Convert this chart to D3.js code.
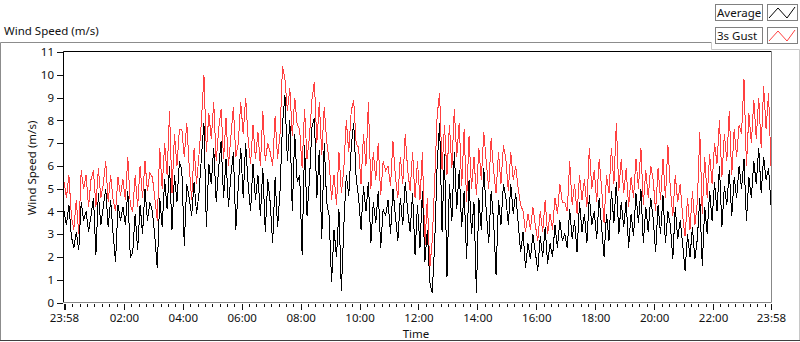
<!DOCTYPE html>
<html>
<head>
<meta charset="utf-8">
<script src="https://cdn.jsdelivr.net/npm/d3@7"></script>
<style>
  body { margin: 0; background: #fff; }
  text { font-family: "Noto Sans", sans-serif; font-size: 11.5px; fill: #111; }
</style>
</head>
<body>
<div id="chart"></div>
<script>
// samples every 5 minutes, starting 23:58 (one row = one hour)
const startTime = new Date(2020, 0, 1, 23, 58);
const endTime = new Date(2020, 0, 2, 23, 58);
const stepMinutes = 5;
const yTickValues = [0, 1, 2, 3, 4, 5, 6, 7, 8, 9, 10, 11];
const seriesNames = ['Average', '3s Gust'];
const seriesColors = ['#000000', '#ff4040'];

const average = [
  4.0, 3.4, 4.3, 2.9, 2.4, 3.1, 2.3, 4.4, 3.6, 4.0, 3.1, 3.8,
  4.6, 2.1, 4.8, 3.4, 4.2, 5.0, 3.3, 4.5, 3.0, 1.8, 4.3, 3.6,
  4.2, 3.4, 4.9, 2.0, 2.2, 3.9, 2.3, 4.3, 3.0, 5.0, 3.6, 4.4,
  4.0, 2.9, 1.5, 4.6, 3.3, 5.4, 4.1, 6.0, 3.2, 5.6, 4.4, 6.2,
  5.8, 2.5, 5.2, 4.6, 3.8, 5.3, 3.9, 4.8, 6.4, 7.9, 3.3, 6.1,
  5.2, 6.8, 4.4, 5.9, 7.1, 4.6, 6.3, 4.2, 5.6, 6.6, 3.2, 5.1,
  6.8, 4.6, 7.0, 5.2, 4.0, 6.1, 4.5, 5.6, 3.8, 5.9, 3.1, 5.4,
  4.4, 2.6, 5.5, 3.3, 4.9, 7.8, 9.1, 6.2, 8.0, 4.0, 7.4, 5.3,
  5.6, 2.1, 6.9, 3.8, 5.4, 7.7, 8.1, 4.6, 6.7, 2.8, 7.0, 4.4,
  3.8, 0.9, 3.2, 2.0, 4.1, 0.5, 3.4, 5.6, 4.7, 6.8, 7.9, 5.5,
  4.6, 3.2, 5.1, 4.0, 5.3, 2.6, 4.4, 3.5, 4.9, 2.4, 4.1, 3.8,
  4.5, 3.0, 5.0, 3.8, 2.7, 4.6, 3.4, 5.3, 4.0, 3.1, 4.8, 2.1,
  4.3, 2.4, 4.9, 1.8, 3.2, 0.9, 0.4, 2.6, 6.0, 7.9, 3.1, 6.5,
  1.1, 5.2, 3.6, 6.6, 4.1, 5.8, 3.3, 4.9, 1.9, 5.4, 3.0, 4.4,
  0.4, 4.6, 3.2, 5.9, 4.0, 2.6, 4.9, 3.6, 1.2, 4.5, 3.4, 5.2,
  4.6, 3.4, 5.2, 3.9, 4.8, 3.5, 2.2, 3.1, 1.5, 2.6, 1.9, 3.0,
  2.2, 1.4, 2.9, 2.0, 3.3, 1.7, 2.6, 2.0, 3.4, 2.4, 3.6, 2.7,
  3.0, 2.4, 4.1, 2.8, 3.6, 2.2, 4.4, 3.1, 3.9, 2.6, 4.7, 3.4,
  4.0, 2.8, 4.6, 3.3, 2.0, 3.9, 2.7, 4.9, 3.5, 5.3, 3.0, 4.4,
  3.3, 4.5, 2.4, 3.9, 2.9, 4.8, 3.5, 5.0, 2.6, 4.2, 3.1, 4.6,
  3.7, 2.2, 4.3, 3.0, 4.7, 2.6, 4.0, 3.4, 1.9, 4.2, 2.8, 3.6,
  2.6, 1.4, 3.0, 2.0, 3.3, 1.9, 2.8, 4.6, 1.6, 4.2, 3.0, 4.9,
  3.6, 5.3, 4.0, 6.0, 3.3, 5.1, 4.3, 5.8, 3.8, 5.5, 4.6, 6.0,
  5.0, 6.3, 3.6, 5.5, 4.6, 6.2, 5.2, 6.8, 4.8, 6.4, 5.4, 5.9,
  4.3
];

const gust = [
  5.3, 4.6, 5.6, 3.8, 3.2, 4.5, 3.0, 5.8, 5.0, 5.6, 4.2, 5.4,
  5.8, 4.2, 5.9, 4.6, 5.2, 6.2, 4.4, 5.6, 4.5, 4.0, 5.5, 4.7,
  5.4, 4.5, 6.4, 4.3, 4.0, 5.6, 4.2, 6.0, 4.6, 6.2, 4.9, 5.7,
  5.5, 4.6, 3.6, 6.8, 5.0, 7.0, 5.6, 8.4, 4.8, 7.4, 6.0, 7.6,
  7.6, 6.4, 7.9, 6.0, 4.5, 6.8, 5.2, 6.5, 8.0, 10.0, 6.6, 8.3,
  7.2, 8.8, 6.2, 7.6, 8.5, 6.3, 8.1, 6.0, 7.3, 8.6, 6.4, 7.0,
  8.8, 7.4, 9.0, 7.2, 6.1, 7.8, 6.3, 7.5, 6.0, 8.4, 6.2, 7.0,
  6.6, 6.0, 8.2, 6.3, 7.4, 10.4, 9.8, 8.4, 9.4, 7.3, 9.0, 7.8,
  7.6, 5.9, 8.5, 6.3, 7.3, 8.9, 9.7, 7.0, 8.8, 6.5, 8.6, 7.1,
  6.2, 4.5, 5.6, 4.3, 6.6, 4.8, 5.9, 8.0, 6.6, 8.4, 8.9, 7.0,
  6.8, 5.2, 7.4, 6.0, 8.8, 5.0, 6.6, 5.4, 7.0, 4.7, 6.2, 5.8,
  6.0, 5.1, 7.1, 5.5, 4.6, 6.4, 5.2, 7.4, 5.8, 4.9, 6.6, 4.6,
  6.2, 4.5, 6.6, 2.4, 4.6, 1.5, 2.7, 5.3, 8.2, 9.2, 5.8, 7.8,
  5.6, 7.8, 5.9, 8.5, 6.4, 7.9, 5.1, 7.6, 4.4, 7.3, 5.0, 6.4,
  4.7, 6.8, 5.4, 7.5, 6.2, 5.0, 7.2, 5.8, 4.8, 6.6, 5.2, 6.9,
  6.3, 4.9, 6.6, 5.4, 6.0, 5.0, 4.3, 4.0, 3.1, 3.9, 3.2, 4.2,
  3.4, 2.7, 4.0, 3.1, 4.5, 3.0, 3.9, 3.2, 4.6, 3.9, 5.2, 4.4,
  4.4, 4.0, 6.2, 4.3, 5.2, 3.9, 5.6, 4.5, 5.4, 4.2, 6.8, 5.0,
  5.8, 4.4, 6.3, 5.0, 3.5, 5.6, 4.8, 6.8, 5.2, 7.9, 4.9, 6.3,
  4.8, 5.9, 4.2, 5.5, 4.6, 6.3, 5.0, 6.8, 4.3, 5.8, 4.6, 6.0,
  5.4, 4.0, 5.9, 4.5, 6.3, 4.6, 6.9, 5.0, 3.8, 5.6, 4.4, 5.2,
  3.8, 2.9, 4.6, 3.2, 4.9, 3.4, 4.4, 7.5, 3.9, 6.4, 4.6, 6.5,
  5.2, 7.0, 6.1, 8.0, 5.5, 7.4, 6.2, 8.4, 5.6, 7.6, 6.4, 7.8,
  7.4, 9.8, 6.0, 8.3, 7.0, 8.9, 7.2, 9.0, 6.8, 9.5, 7.6, 9.2,
  6.0
];

const W = 800, H = 342;
const plotLeft = 63, plotRight = 772, plotTop = 51, plotBottom = 303;

const svg = d3.select('#chart').append('svg')
  .attr('width', W)
  .attr('height', H);

const x = d3.scaleTime().domain([startTime, endTime]).range([64, 771]);
const y = d3.scaleLinear().domain([0, 11]).range([302.5, 52]);

const timeOf = (i) => d3.timeMinute.offset(startTime, i * stepMinutes);

// outer panel
svg.append('path')
  .attr('d', 'M0.5,341 V42.5 H711.5')
  .attr('fill', 'none').attr('stroke', '#8c8c8c');
svg.append('path')
  .attr('d', 'M711.5,42.5 V49.5 H799.5 V341')
  .attr('fill', 'none').attr('stroke', '#c8c8c8');
svg.append('line')
  .attr('x1', 0).attr('x2', 800).attr('y1', 340.5).attr('y2', 340.5)
  .attr('stroke', '#404040');

svg.append('text')
  .attr('x', 4).attr('y', 35)
  .text('Wind Speed (m/s)');

// plot frame (sunken look)
svg.append('path')
  .attr('d', `M${plotLeft + 0.5},${plotBottom} V${plotTop + 0.5} H${plotRight}`)
  .attr('fill', 'none').attr('stroke', '#000');
svg.append('path')
  .attr('d', `M${plotRight - 0.5},${plotTop} V${plotBottom - 0.5} H${plotLeft}`)
  .attr('fill', 'none').attr('stroke', '#888');

// lines
const line = d3.line()
  .x((d, i) => x(timeOf(i)))
  .y((d) => y(d));

[gust, average].forEach((values, k) => {
  svg.append('path')
    .datum(values)
    .attr('fill', 'none')
    .attr('stroke', k === 0 ? seriesColors[1] : seriesColors[0])
    .attr('stroke-width', 1)
    .attr('shape-rendering', 'crispEdges')
    .attr('d', line);
});

// y axis
const yAxis = svg.append('g')
  .attr('transform', `translate(${plotLeft},0)`)
  .call(d3.axisLeft(y).tickValues(yTickValues).tickSize(6).tickPadding(3));
yAxis.select('.domain').remove();
yAxis.selectAll('.tick line').attr('stroke', '#111').attr('shape-rendering', 'crispEdges');
yAxis.selectAll('text').style('font-size', '11.5px');

svg.append('text')
  .attr('transform', 'translate(36,168) rotate(-90)')
  .attr('text-anchor', 'middle')
  .text('Wind Speed (m/s)');

// x axis: minor ticks every 15 min, major every 2 h
const minorTicks = d3.timeMinute.every(15).range(new Date(2020, 0, 2, 0, 0), endTime);
const majorTicks = [startTime].concat(d3.timeHour.every(2).range(new Date(2020, 0, 2, 0, 0), endTime), [endTime]);

const xMinor = svg.append('g')
  .attr('transform', `translate(0,${plotBottom + 0.5})`)
  .call(d3.axisBottom(x).tickValues(minorTicks).tickSize(3).tickFormat(''));
xMinor.select('.domain').remove();

const fmt = d3.timeFormat('%H:%M');
const xMajor = svg.append('g')
  .attr('transform', `translate(0,${plotBottom + 0.5})`)
  .call(d3.axisBottom(x).tickValues(majorTicks).tickSize(6).tickPadding(4)
    .tickFormat((d) => (d.getHours() === 0 && d.getMinutes() === 0) ? '' : fmt(d)));
xMajor.select('.domain').remove();
svg.selectAll('.tick line').attr('stroke', '#111').attr('shape-rendering', 'crispEdges');
xMajor.selectAll('text').style('font-size', '11.5px');

svg.append('text')
  .attr('x', 416).attr('y', 338)
  .attr('text-anchor', 'middle')
  .text('Time');

// legend
const legend = svg.append('g');
seriesNames.forEach((name, i) => {
  const ly = 4 + i * 23;
  legend.append('rect')
    .attr('x', 715.5).attr('y', ly + 0.5).attr('width', 47).attr('height', 16)
    .attr('fill', '#fff').attr('stroke', '#808080');
  legend.append('text')
    .attr('x', 717).attr('y', ly + 13)
    .text(name);
  legend.append('rect')
    .attr('x', 767.5).attr('y', ly + 0.5).attr('width', 30).attr('height', 16)
    .attr('fill', '#fff').attr('stroke', '#808080');
  legend.append('path')
    .attr('d', `M769,${ly + 14} L778,${ly + 4} L787,${ly + 14} L795,${ly + 3}`)
    .attr('fill', 'none')
    .attr('stroke', seriesColors[i]);
});
</script>
</body>
</html>
